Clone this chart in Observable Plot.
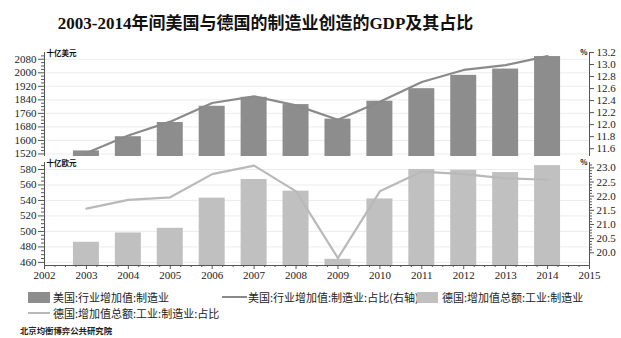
<!DOCTYPE html>
<html><head><meta charset="utf-8">
<script src="https://cdn.jsdelivr.net/npm/d3@7"></script>
<script src="https://cdn.jsdelivr.net/npm/@observablehq/plot@0.6"></script>
<style>
body{margin:0;background:#fff;}
#root{position:relative;width:621px;height:338px;overflow:hidden;font-family:"Noto Sans CJK SC",sans-serif;color:#222;}
.abs{position:absolute;white-space:nowrap;}
#title{left:0;top:12px;width:531px;text-align:center;font:bold 17px "Liberation Serif","Noto Sans CJK SC";color:#111;line-height:24px;}
.lg{font-size:11px;line-height:14px;}
#source{left:20px;top:325px;font-size:8.4px;font-weight:bold;line-height:10px;color:#222;}
</style></head><body><div id="root"></div>
<script>
const titleText = "2003-2014年间美国与德国的制造业创造的GDP及其占比";
const years = [2003,2004,2005,2006,2007,2008,2009,2010,2011,2012,2013,2014];
const usValue = [1538,1622,1706,1802,1855,1812,1726,1832,1906,1985,2022,2096];
const usShare = [11.53,11.82,12.05,12.36,12.47,12.32,12.08,12.38,12.71,12.91,12.99,13.14];
const deValue = [486,498,504,543,567,552,464,542,580,579,576,585];
const deShare = [21.56,21.87,21.96,22.78,23.08,22.17,19.81,22.17,22.87,22.78,22.63,22.58];
const xTicks = [2002,2003,2004,2005,2006,2007,2008,2009,2010,2011,2012,2013,2014,2015];
const usLeftTicks = [1520,1600,1680,1760,1840,1920,2000,2080];
const usRightTicks = [11.6,11.8,12.0,12.2,12.4,12.6,12.8,13.0,13.2];
const deLeftTicks = [460,480,500,520,540,560,580];
const deRightTicks = [20.0,20.5,21.0,21.5,22.0,22.5,23.0];
const usUnit = "十亿美元";
const deUnit = "十亿欧元";
const pctUnit = "%";
const seriesNames = ["美国:行业增加值:制造业","美国:行业增加值:制造业:占比(右轴)","德国:增加值总额:工业:制造业","德国:增加值总额:工业:制造业:占比"];
const sourceText = "北京均衡博弈公共研究院";

const C = {usBar:"#8d8d8d", usLine:"#8a8a8a", deBar:"#c0c0c0", deLine:"#b9b9b9", axis:"#555", grid:"#ececec", text:"#222"};
const W = 621, ML = 44, MR = 32;
const halfBar = 0.31;

const root = document.getElementById("root");
const t = document.createElement("div"); t.className="abs"; t.id="title"; t.textContent = titleText; root.appendChild(t);

function panel({vals, shares, leftDom, rightDom, leftTicks, rightTicks, leftMinorStep, rightMinorStep, barColor, lineColor, unit, height, mt, mb, showX}) {
  const toLeft = p => leftDom[0] + (p - rightDom[0]) / (rightDom[1] - rightDom[0]) * (leftDom[1] - leftDom[0]);
  const fromLeft = v => rightDom[0] + (v - leftDom[0]) / (leftDom[1] - leftDom[0]) * (rightDom[1] - rightDom[0]);
  const rows = years.map((y,i) => ({year:y, value:vals[i], share:shares[i]}));
  const leftMinor = d3.range(leftTicks[0] - leftMinorStep*4, leftDom[1], leftMinorStep).filter(v => v >= leftDom[0] && !leftTicks.includes(v));
  const rightMinor = rightMinorStep ? d3.range(rightTicks[0], rightDom[1], rightMinorStep).map(v => +v.toFixed(3)).filter(v => v >= rightDom[0] && !rightTicks.some(r => Math.abs(r - v) < 1e-6)) : [];
  const marks = [
    Plot.ruleY(leftTicks, {stroke: C.grid, strokeWidth: 1}),
    Plot.rectY(rows, {x1: d => d.year - halfBar, x2: d => d.year + halfBar, y1: leftDom[0], y2: "value", fill: barColor}),
    Plot.line(rows, {x: "year", y: d => toLeft(d.share), stroke: lineColor, strokeWidth: 2.2}),
    Plot.ruleX([xTicks[0], xTicks[xTicks.length-1]], {stroke: C.axis, strokeWidth: 1}),
    Plot.axisY(leftTicks, {anchor: "left", tickSize: 6, tickPadding: 2, tickFormat: d => String(d), stroke: C.axis, fill: C.text, label: null}),
    Plot.axisY(leftMinor, {anchor: "left", tickSize: 3, tickFormat: () => "", stroke: C.axis, label: null}),
    Plot.axisY(rightTicks.map(toLeft), {anchor: "right", tickSize: 4, tickPadding: 3, tickFormat: d => fromLeft(d).toFixed(1), stroke: C.axis, fill: C.text, label: null}),
    Plot.text([unit], {frameAnchor: "top-left", text: d => d, textAnchor: "start", lineAnchor: "middle", dx: 2, dy: 1, fontSize: 7.5, fontWeight: "bold", fontFamily: "Noto Sans CJK SC", fill: "#111"}),
    Plot.text([pctUnit], {frameAnchor: "top-right", text: d => d, textAnchor: "end", lineAnchor: "middle", dx: -2, dy: 0, fontSize: 7.5, fontWeight: "bold", fontFamily: "Noto Sans CJK SC", fill: "#111"})
  ];
  if (rightMinor.length) marks.push(Plot.axisY(rightMinor.map(toLeft), {anchor: "right", tickSize: 2, tickFormat: () => "", stroke: C.axis, label: null}));
  if (showX) {
    const xMinor = d3.range(xTicks[0], xTicks[xTicks.length-1], 0.25).filter(v => !Number.isInteger(v));
    marks.push(Plot.ruleY([leftDom[0]], {stroke: C.axis, strokeWidth: 1}));
    marks.push(Plot.axisX(xTicks, {anchor: "bottom", tickSize: 4, tickPadding: 2, tickFormat: d => String(d), stroke: C.axis, fill: C.text, label: null}));
    marks.push(Plot.axisX(xMinor, {anchor: "bottom", tickSize: 2, tickFormat: () => "", stroke: C.axis, label: null}));
  }
  return Plot.plot({
    width: W, height, marginLeft: ML, marginRight: MR, marginTop: mt, marginBottom: mb,
    style: {fontFamily: "Liberation Serif", fontSize: "11px", background: "transparent", color: C.text, overflow: "visible"},
    x: {type: "linear", domain: [xTicks[0], xTicks[xTicks.length-1]], label: null, axis: showX ? undefined : null},
    y: {domain: leftDom, label: null},
    marks
  });
}

const p1 = panel({vals: usValue, shares: usShare, leftDom: [1505, 2120], rightDom: [11.47, 13.2], leftTicks: usLeftTicks, rightTicks: usRightTicks, leftMinorStep: 20, rightMinorStep: 0, barColor: C.usBar, lineColor: C.usLine, unit: usUnit, height: 115, mt: 10, mb: 1, showX: false});
const p2 = panel({vals: deValue, shares: deShare, leftDom: [456, 589], rightDom: [19.55, 23.19], leftTicks: deLeftTicks, rightTicks: deRightTicks, leftMinorStep: 5, rightMinorStep: 0.1, barColor: C.deBar, lineColor: C.deLine, unit: deUnit, height: 125, mt: 5, mb: 17, showX: true});
p1.style.position = "absolute"; p1.style.left = "0px"; p1.style.top = "42px";
p2.style.position = "absolute"; p2.style.left = "0px"; p2.style.top = "157px";
root.appendChild(p1); root.appendChild(p2);

function add(el, css, text){ const d = document.createElement("div"); d.className = "abs " + (el||""); Object.assign(d.style, css); if (text) d.textContent = text; root.appendChild(d); return d; }
// legend
add("", {left:"28px", top:"292px", width:"22px", height:"11px", background:C.usBar});
add("lg", {left:"53px", top:"290px"}, seriesNames[0]);
add("", {left:"222px", top:"296px", width:"25px", height:"2px", background:C.usLine});
add("lg", {left:"248px", top:"290px"}, seriesNames[1]);
add("", {left:"417px", top:"292px", width:"21px", height:"11px", background:C.deBar});
add("lg", {left:"442px", top:"290px"}, seriesNames[2]);
add("", {left:"28px", top:"312px", width:"22px", height:"2px", background:C.deLine});
add("lg", {left:"53px", top:"306px"}, seriesNames[3]);
add("", {}, null).id = "source";
document.getElementById("source").textContent = sourceText;
</script></body></html>
